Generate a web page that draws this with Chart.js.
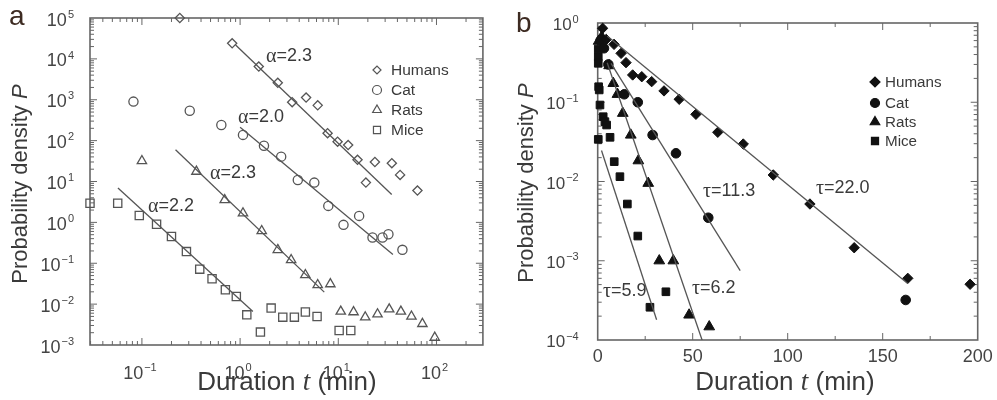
<!DOCTYPE html>
<html>
<head>
<meta charset="utf-8">
<script src="https://cdn.jsdelivr.net/npm/chart.js@4.4.1/dist/chart.umd.min.js"></script>
<style>
  html, body { margin: 0; padding: 0; background: #fff; }
  #wrap { position: relative; width: 997px; height: 400px; overflow: hidden; }
  #ca { position: absolute; left: 0; top: 0; }
  #cb { position: absolute; left: 490px; top: 0; }
</style>
</head>
<body>
<div id="wrap">
  <canvas id="ca" width="490" height="400"></canvas>
  <canvas id="cb" width="507" height="400"></canvas>
</div>
<script>
// ---------- shared ----------
const series = ['Humans', 'Cat', 'Rats', 'Mice'];

// ---------- panel a: power-law (log-log) duration densities ----------
const humansA_t = [0.243, 0.83, 1.55, 2.42, 3.39, 4.70, 6.17, 7.78, 9.84, 12.6, 15.7, 19.1, 23.6, 35.1, 42.6, 64];
const humansA_p = [1e5, 24000, 6500, 2600, 870, 1130, 730, 152, 94, 78, 34, 9.4, 30, 28, 14.5, 6.0];

const catA_t = [0.082, 0.307, 0.644, 1.07, 1.75, 2.62, 3.87, 5.70, 7.91, 11.3, 16.3, 22.3, 28.2, 32.4, 45];
const catA_p = [900, 540, 242, 138, 75, 40.6, 10.9, 9.4, 2.53, 0.87, 1.44, 0.425, 0.425, 0.514, 0.213];

const ratsA_t = [0.1, 0.359, 0.697, 1.07, 1.66, 2.42, 3.31, 4.62, 6.17, 8.3, 10.6, 14.3, 18.8, 25.1, 33, 43.4, 55.6, 71.9, 96];
const ratsA_p = [31.9, 17.5, 3.55, 1.68, 0.62, 0.213, 0.121, 0.052, 0.0296, 0.031, 0.0066, 0.0064, 0.0048, 0.0057, 0.0075, 0.0066, 0.005, 0.0033, 0.00152];

const miceA_t = [0.0296, 0.0567, 0.094, 0.141, 0.2, 0.284, 0.388, 0.518, 0.708, 0.915, 1.17, 1.61, 2.07, 2.72, 3.57, 4.62, 6.08, 10.2, 13.4];
const miceA_p = [2.94, 2.94, 1.47, 0.90, 0.45, 0.193, 0.0718, 0.0416, 0.0224, 0.0153, 0.00547, 0.00207, 0.0080, 0.0048, 0.0048, 0.0064, 0.0050, 0.00226, 0.00226];

// power-law fits P = amp * t^(-alpha), drawn over [from, to]
const fitA_alpha = [2.3, 2.0, 2.3, 2.2];
const fitA_amp   = [17100, 212, 1.845, 0.01276];
const fitA_from  = [0.9, 1.0, 0.22, 0.057];
const fitA_to    = [35, 36, 7.2, 1.35];

// ---------- panel b: exponential (semi-log) duration densities ----------
const humansB_t = [2.6, 4.5, 8.6, 12.3, 14.9, 18.4, 23.2, 28.4, 34.9, 42.9, 51.7, 63.2, 76.6, 92.4, 111.7, 135, 163.2, 196];
const humansB_p = [0.857, 0.62, 0.538, 0.414, 0.316, 0.221, 0.21, 0.182, 0.139, 0.109, 0.0705, 0.0418, 0.0297, 0.0121, 0.0052, 0.00146, 0.0006, 0.000505];

const catB_t = [1.5, 3.3, 5.6, 14.0, 21.1, 28.9, 41.2, 58.2, 162.1];
const catB_p = [0.60, 0.48, 0.30, 0.126, 0.1, 0.0386, 0.0227, 0.00349, 0.00032];

const ratsB_t = [0.5, 2.1, 6.0, 8.2, 10.4, 13.2, 17.4, 21.4, 26.6, 32.4, 39.8, 48.1, 58.7];
const ratsB_p = [0.59, 0.67, 0.29, 0.173, 0.126, 0.0726, 0.0386, 0.0183, 0.0095, 0.001, 0.001, 0.000207, 0.000147];

const miceB_t = [0.3, 0.3, 0.3, 0.5, 0.8, 1.2, 2.9, 3.8, 4.7, 0.3, 6.5, 8.7, 11.7, 15.6, 21.1, 27.5, 35.9];
const miceB_p = [0.47, 0.376, 0.31, 0.157, 0.143, 0.0923, 0.0657, 0.0569, 0.0516, 0.034, 0.0361, 0.0178, 0.0115, 0.0052, 0.00205, 0.000259, 0.000406];

// exponential fits P = amp * exp(-t/tau), drawn over [from, to]
const fitB_tau  = [22.0, 11.3, 6.2, 5.9];
const fitB_amp  = [0.859, 0.574, 0.705, 0.0345];
const fitB_from = [5, 7, 5, 2];
const fitB_to   = [163, 75, 55, 31];

// ---------- helpers ----------
const zipPts = (ts, ps) => ts.map((t, i) => ({ x: t, y: ps[i] }));
const markerStyles = ['rectRot', 'circle', 'triangle', 'rect'];
const INK = '#555';
const TXT = '#3a3a3a';

function logTicks(min, max) {
  const out = [];
  for (let d = Math.floor(Math.log10(min)); d <= Math.ceil(Math.log10(max)); d++) {
    for (let k = 1; k <= 9; k++) {
      const v = k * Math.pow(10, d);
      if (v >= min * 1.0001 && v <= max * 0.9999) out.push({ v, major: k === 1, exp: d });
    }
  }
  return out;
}

function line(ctx, x1, y1, x2, y2) {
  ctx.beginPath(); ctx.moveTo(x1, y1); ctx.lineTo(x2, y2); ctx.stroke();
}

// "10" with a raised exponent; align = 'right' | 'center'
function drawPow(ctx, exp, x, y, align, size) {
  const base = '10';
  const sup = exp < 0 ? '\u2212' + (-exp) : String(exp);
  ctx.font = size + 'px "Liberation Sans", Arial, sans-serif';
  const wb = ctx.measureText(base).width;
  ctx.font = Math.round(size * 0.62) + 'px "Liberation Sans", Arial, sans-serif';
  const ws = ctx.measureText(sup).width;
  const total = wb + ws + 1;
  const sx = align === 'right' ? x - total : x - total / 2;
  ctx.textAlign = 'left';
  ctx.textBaseline = 'alphabetic';
  ctx.font = size + 'px "Liberation Sans", Arial, sans-serif';
  ctx.fillText(base, sx, y + size * 0.42);
  ctx.font = Math.round(size * 0.62) + 'px "Liberation Sans", Arial, sans-serif';
  ctx.fillText(sup, sx + wb + 1, y - size * 0.02);
}

function drawFrame(chart, xTicks, yTicks) {
  const { ctx, chartArea: { left, right, top, bottom }, scales: { x, y } } = chart;
  ctx.save();
  ctx.strokeStyle = '#666';
  ctx.lineWidth = 1;
  xTicks.forEach(t => {
    const px = x.getPixelForValue(t.v);
    const len = t.major ? 7 : 4;
    line(ctx, px, bottom, px, bottom - len);
    line(ctx, px, top, px, top + len);
  });
  yTicks.forEach(t => {
    const py = y.getPixelForValue(t.v);
    const len = t.major ? 7 : 4;
    line(ctx, left, py, left + len, py);
    line(ctx, right, py, right - len, py);
  });
  ctx.lineWidth = 1.6;
  ctx.strokeRect(left, top, right - left, bottom - top);
  ctx.restore();
}

function drawMarker(ctx, style, x, y, r, filled) {
  ctx.beginPath();
  if (style === 'circle') {
    ctx.arc(x, y, r, 0, Math.PI * 2);
  } else if (style === 'rectRot') {
    ctx.moveTo(x - r, y); ctx.lineTo(x, y - r); ctx.lineTo(x + r, y); ctx.lineTo(x, y + r); ctx.closePath();
  } else if (style === 'triangle') {
    const h = r * Math.sqrt(3) / 2;
    ctx.moveTo(x, y - r); ctx.lineTo(x + h, y + r / 2); ctx.lineTo(x - h, y + r / 2); ctx.closePath();
  } else {
    const s = r * Math.SQRT1_2;
    ctx.rect(x - s, y - s, 2 * s, 2 * s);
  }
  if (filled) ctx.fill();
  ctx.stroke();
}

function drawLegend(ctx, names, mx, tx, ys, filled, radii, size) {
  ctx.save();
  ctx.strokeStyle = filled ? '#111' : INK;
  ctx.fillStyle = '#111';
  ctx.lineWidth = 1.2;
  names.forEach((n, i) => drawMarker(ctx, markerStyles[i], mx, ys[i], radii[i], filled));
  ctx.fillStyle = TXT;
  ctx.font = size + 'px "Liberation Sans", Arial, sans-serif';
  ctx.textAlign = 'left';
  ctx.textBaseline = 'middle';
  names.forEach((n, i) => ctx.fillText(n, tx, ys[i] + 1));
  ctx.restore();
}

function drawXTitle(ctx, cx, baseline) {
  ctx.save();
  ctx.fillStyle = TXT;
  ctx.textBaseline = 'alphabetic';
  ctx.textAlign = 'left';
  const f1 = '26px "Liberation Sans", Arial, sans-serif';
  const f2 = 'italic 27px "Liberation Serif", "Times New Roman", serif';
  const a = 'Duration ', b = 't', c = ' (min)';
  ctx.font = f1; const wa = ctx.measureText(a).width, wc = ctx.measureText(c).width;
  ctx.font = f2; const wb = ctx.measureText(b).width;
  let x = cx - (wa + wb + wc) / 2;
  ctx.font = f1; ctx.fillText(a, x, baseline); x += wa;
  ctx.font = f2; ctx.fillText(b, x, baseline); x += wb;
  ctx.font = f1; ctx.fillText(c, x, baseline);
  ctx.restore();
}

function drawYTitle(ctx, baseX, cy) {
  ctx.save();
  ctx.translate(baseX, cy);
  ctx.rotate(-Math.PI / 2);
  ctx.fillStyle = TXT;
  ctx.textBaseline = 'alphabetic';
  ctx.textAlign = 'left';
  const f1 = '22px "Liberation Sans", Arial, sans-serif';
  const f2 = 'italic 22px "Liberation Sans", Arial, sans-serif';
  const a = 'Probability density ', b = 'P';
  ctx.font = f1; const wa = ctx.measureText(a).width;
  ctx.font = f2; const wb = ctx.measureText(b).width;
  let x = -(wa + wb) / 2;
  ctx.font = f1; ctx.fillText(a, x, 0); x += wa;
  ctx.font = f2; ctx.fillText(b, x, 0);
  ctx.restore();
}

function drawFitLabel(ctx, sym, value, x, y) {
  ctx.save();
  ctx.fillStyle = TXT;
  ctx.textBaseline = 'middle';
  ctx.textAlign = 'left';
  ctx.font = '20px "Liberation Serif", "Times New Roman", serif';
  ctx.fillText(sym, x, y + 1);
  const w = ctx.measureText(sym).width;
  ctx.font = '18px "Liberation Sans", Arial, sans-serif';
  ctx.fillText('=' + value.toFixed(1), x + w, y);
  ctx.restore();
}

function panelLetter(ctx, ch, x, baseline) {
  ctx.save();
  ctx.fillStyle = '#3d2b22';
  ctx.font = '28px "Liberation Sans", Arial, sans-serif';
  ctx.textAlign = 'left';
  ctx.textBaseline = 'alphabetic';
  ctx.fillText(ch, x, baseline);
  ctx.restore();
}

// ---------- chart a ----------
const xMinA = 0.0296, xMaxA = 297, yMinA = 1e-3, yMaxA = 1e5;
const radiiA = [4.6, 4.6, 5.4, 5.8];
const dataA = [[humansA_t, humansA_p], [catA_t, catA_p], [ratsA_t, ratsA_p], [miceA_t, miceA_p]];

const pointSetsA = dataA.map((d, i) => ({
  label: series[i],
  data: zipPts(d[0], d[1]),
  showLine: false,
  pointStyle: markerStyles[i],
  pointRadius: radiiA[i],
  pointBorderWidth: 1.3,
  pointBorderColor: INK,
  pointBackgroundColor: 'rgba(0,0,0,0)',
  clip: false
}));
const fitSetsA = fitA_alpha.map((a, i) => ({
  label: series[i] + ' fit',
  data: [fitA_from[i], fitA_to[i]].map(t => ({ x: t, y: fitA_amp[i] * Math.pow(t, -a) })),
  showLine: true,
  pointRadius: 0,
  borderColor: INK,
  borderWidth: 1.3
}));

const decorA = {
  id: 'decorA',
  beforeDatasetsDraw(chart) {
    drawFrame(chart, logTicks(xMinA, xMaxA), logTicks(yMinA, yMaxA));
  },
  afterDraw(chart) {
    const { ctx, chartArea: { left, bottom }, scales: { x, y } } = chart;
    ctx.save();
    ctx.fillStyle = '#444';
    for (let e = -3; e <= 5; e++) drawPow(ctx, e, left - 16, y.getPixelForValue(Math.pow(10, e)), 'right', 18);
    for (let e = -1; e <= 2; e++) drawPow(ctx, e, x.getPixelForValue(Math.pow(10, e)) - 2, bottom + 26, 'center', 18);
    ctx.restore();
    drawXTitle(ctx, 287, 390);
    drawYTitle(ctx, 27, 184);
    panelLetter(ctx, 'a', 9, 25);
    drawLegend(ctx, series, 377, 391, [70, 90, 110, 130], false, [4, 4.5, 5, 5], 15.5);
    // fit labels placed beside their lines
    const labelPosA = [[266, 56], [238, 117], [210, 173], [148, 206]];
    fitA_alpha.forEach((a, i) => drawFitLabel(ctx, '\u03B1', a, labelPosA[i][0], labelPosA[i][1]));
  }
};

new Chart(document.getElementById('ca'), {
  type: 'scatter',
  data: { datasets: fitSetsA.concat(pointSetsA) },
  options: {
    responsive: false,
    animation: false,
    devicePixelRatio: 1,
    layout: { padding: { left: 90, top: 18, right: 6, bottom: 55 } },
    scales: {
      x: { type: 'logarithmic', min: xMinA, max: xMaxA, display: false },
      y: { type: 'logarithmic', min: yMinA, max: yMaxA, display: false }
    },
    plugins: { legend: { display: false }, tooltip: { enabled: false } }
  },
  plugins: [decorA]
});

// ---------- chart b ----------
const xMinB = 0, xMaxB = 200, yMinB = 1e-4, yMaxB = 1;
const radiiB = [5.2, 4.8, 6.2, 5.4];
const dataB = [[humansB_t, humansB_p], [catB_t, catB_p], [ratsB_t, ratsB_p], [miceB_t, miceB_p]];

const pointSetsB = dataB.map((d, i) => ({
  label: series[i],
  data: zipPts(d[0], d[1]),
  showLine: false,
  pointStyle: markerStyles[i],
  pointRadius: radiiB[i],
  pointBorderWidth: 1,
  pointBorderColor: '#111',
  pointBackgroundColor: '#111',
  clip: false
}));
const fitSetsB = fitB_tau.map((tau, i) => ({
  label: series[i] + ' fit',
  data: [fitB_from[i], fitB_to[i]].map(t => ({ x: t, y: fitB_amp[i] * Math.exp(-t / tau) })),
  showLine: true,
  pointRadius: 0,
  borderColor: INK,
  borderWidth: 1.3
}));

const linTicksB = [];
for (let v = 25; v < xMaxB; v += 25) linTicksB.push({ v, major: v % 50 === 0 });

const decorB = {
  id: 'decorB',
  beforeDatasetsDraw(chart) {
    drawFrame(chart, linTicksB, logTicks(yMinB, yMaxB));
  },
  afterDraw(chart) {
    const { ctx, chartArea: { left, bottom }, scales: { x, y } } = chart;
    ctx.save();
    ctx.fillStyle = '#444';
    for (let e = -4; e <= 0; e++) drawPow(ctx, e, left - 19, y.getPixelForValue(Math.pow(10, e)), 'right', 17);
    ctx.font = '18px "Liberation Sans", Arial, sans-serif';
    ctx.textAlign = 'center';
    ctx.textBaseline = 'middle';
    for (let v = 0; v <= xMaxB; v += 50) ctx.fillText(String(v), x.getPixelForValue(v), bottom + 17);
    ctx.restore();
    drawXTitle(ctx, 295, 390);
    drawYTitle(ctx, 43, 183);
    panelLetter(ctx, 'b', 26, 32);
    drawLegend(ctx, series, 385, 395, [82, 103, 122, 141], true, [5, 4.5, 5.5, 5], 15.2);
    const labelPosB = [[326, 188], [213, 191], [202, 288], [113, 291]];
    fitB_tau.forEach((t, i) => drawFitLabel(ctx, '\u03C4', t, labelPosB[i][0], labelPosB[i][1]));
  }
};

new Chart(document.getElementById('cb'), {
  type: 'scatter',
  data: { datasets: fitSetsB.concat(pointSetsB) },
  options: {
    responsive: false,
    animation: false,
    devicePixelRatio: 1,
    layout: { padding: { left: 107.7, top: 23, right: 19.3, bottom: 60 } },
    scales: {
      x: { type: 'linear', min: xMinB, max: xMaxB, display: false },
      y: { type: 'logarithmic', min: yMinB, max: yMaxB, display: false }
    },
    plugins: { legend: { display: false }, tooltip: { enabled: false } }
  },
  plugins: [decorB]
});
</script>
</body>
</html>
